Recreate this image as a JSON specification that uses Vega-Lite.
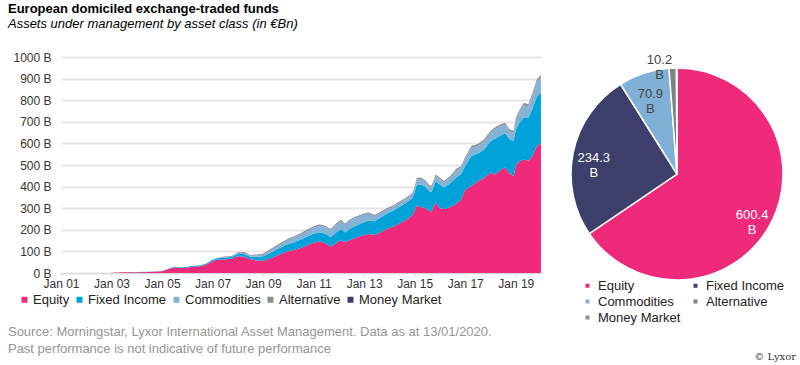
{
"$schema": "https://vega.github.io/schema/vega-lite/v6.json",
"background": "white",
"padding": {"left": 7, "top": 3, "right": 5, "bottom": 3},
"bounds": "flush",
"spacing": 29,
"title": {"text": "European domiciled exchange-traded funds", "subtitle": "Assets under management by asset class (in €Bn)", "anchor": "start", "frame": "bounds", "font": "Liberation Sans", "fontSize": 13, "fontWeight": "bold", "color": "#000", "subtitleFont": "Liberation Sans", "subtitleFontSize": 13, "subtitleFontStyle": "italic", "subtitleColor": "#000", "subtitlePadding": 2, "offset": 20},
"config": {"view": {"stroke": null}, "font": "Liberation Sans"},
"resolve": {"scale": {"color": "independent"}, "legend": {"color": "independent"}},
"hconcat": [
{
"width": 480, "height": 216,
"title": {"text": ["Source: Morningstar, Lyxor International Asset Management. Data as at 13/01/2020.", "Past performance is not indicative of future performance"], "orient": "bottom", "anchor": "start", "frame": "bounds", "font": "Liberation Sans", "fontSize": 13, "fontWeight": "normal", "color": "#959595", "lineHeight": 17, "offset": 19, "dx": -5},
"data": {"values": [
{"d":"2003-01-01","s":"Equity","v":1},{"d":"2003-01-01","s":"Fixed Income","v":0},{"d":"2003-01-01","s":"Commodities","v":0},{"d":"2003-01-01","s":"Alternative","v":0},{"d":"2003-01-01","s":"Money Market","v":0},
{"d":"2003-07-01","s":"Equity","v":3},{"d":"2003-07-01","s":"Fixed Income","v":0},{"d":"2003-07-01","s":"Commodities","v":0},{"d":"2003-07-01","s":"Alternative","v":0},{"d":"2003-07-01","s":"Money Market","v":0},
{"d":"2004-01-01","s":"Equity","v":4},{"d":"2004-01-01","s":"Fixed Income","v":0.5},{"d":"2004-01-01","s":"Commodities","v":0},{"d":"2004-01-01","s":"Alternative","v":0},{"d":"2004-01-01","s":"Money Market","v":0},
{"d":"2004-07-01","s":"Equity","v":5},{"d":"2004-07-01","s":"Fixed Income","v":1},{"d":"2004-07-01","s":"Commodities","v":0},{"d":"2004-07-01","s":"Alternative","v":0},{"d":"2004-07-01","s":"Money Market","v":0},
{"d":"2005-01-01","s":"Equity","v":8},{"d":"2005-01-01","s":"Fixed Income","v":1},{"d":"2005-01-01","s":"Commodities","v":0},{"d":"2005-01-01","s":"Alternative","v":0},{"d":"2005-01-01","s":"Money Market","v":0},
{"d":"2005-04-01","s":"Equity","v":18},{"d":"2005-04-01","s":"Fixed Income","v":2},{"d":"2005-04-01","s":"Commodities","v":0},{"d":"2005-04-01","s":"Alternative","v":0},{"d":"2005-04-01","s":"Money Market","v":0},
{"d":"2005-07-01","s":"Equity","v":26},{"d":"2005-07-01","s":"Fixed Income","v":3},{"d":"2005-07-01","s":"Commodities","v":0},{"d":"2005-07-01","s":"Alternative","v":0},{"d":"2005-07-01","s":"Money Market","v":0},
{"d":"2005-10-01","s":"Equity","v":23},{"d":"2005-10-01","s":"Fixed Income","v":3},{"d":"2005-10-01","s":"Commodities","v":0},{"d":"2005-10-01","s":"Alternative","v":0},{"d":"2005-10-01","s":"Money Market","v":0},
{"d":"2006-01-01","s":"Equity","v":26},{"d":"2006-01-01","s":"Fixed Income","v":3},{"d":"2006-01-01","s":"Commodities","v":0},{"d":"2006-01-01","s":"Alternative","v":0},{"d":"2006-01-01","s":"Money Market","v":0},
{"d":"2006-04-01","s":"Equity","v":29},{"d":"2006-04-01","s":"Fixed Income","v":4},{"d":"2006-04-01","s":"Commodities","v":0},{"d":"2006-04-01","s":"Alternative","v":0},{"d":"2006-04-01","s":"Money Market","v":0},
{"d":"2006-07-01","s":"Equity","v":31},{"d":"2006-07-01","s":"Fixed Income","v":4},{"d":"2006-07-01","s":"Commodities","v":0.5},{"d":"2006-07-01","s":"Alternative","v":0},{"d":"2006-07-01","s":"Money Market","v":0},
{"d":"2006-10-01","s":"Equity","v":38},{"d":"2006-10-01","s":"Fixed Income","v":5},{"d":"2006-10-01","s":"Commodities","v":1},{"d":"2006-10-01","s":"Alternative","v":0},{"d":"2006-10-01","s":"Money Market","v":0},
{"d":"2007-01-01","s":"Equity","v":55},{"d":"2007-01-01","s":"Fixed Income","v":6},{"d":"2007-01-01","s":"Commodities","v":1.5},{"d":"2007-01-01","s":"Alternative","v":0.5},{"d":"2007-01-01","s":"Money Market","v":0},
{"d":"2007-04-01","s":"Equity","v":62},{"d":"2007-04-01","s":"Fixed Income","v":7},{"d":"2007-04-01","s":"Commodities","v":2},{"d":"2007-04-01","s":"Alternative","v":0.5},{"d":"2007-04-01","s":"Money Market","v":0},
{"d":"2007-07-01","s":"Equity","v":64},{"d":"2007-07-01","s":"Fixed Income","v":8},{"d":"2007-07-01","s":"Commodities","v":2.5},{"d":"2007-07-01","s":"Alternative","v":1},{"d":"2007-07-01","s":"Money Market","v":0.5},
{"d":"2007-10-01","s":"Equity","v":66},{"d":"2007-10-01","s":"Fixed Income","v":8},{"d":"2007-10-01","s":"Commodities","v":3},{"d":"2007-10-01","s":"Alternative","v":1},{"d":"2007-10-01","s":"Money Market","v":0.5},
{"d":"2008-01-01","s":"Equity","v":78},{"d":"2008-01-01","s":"Fixed Income","v":10},{"d":"2008-01-01","s":"Commodities","v":5},{"d":"2008-01-01","s":"Alternative","v":1},{"d":"2008-01-01","s":"Money Market","v":1},
{"d":"2008-04-01","s":"Equity","v":76},{"d":"2008-04-01","s":"Fixed Income","v":12},{"d":"2008-04-01","s":"Commodities","v":7},{"d":"2008-04-01","s":"Alternative","v":1},{"d":"2008-04-01","s":"Money Market","v":1},
{"d":"2008-07-01","s":"Equity","v":64},{"d":"2008-07-01","s":"Fixed Income","v":11},{"d":"2008-07-01","s":"Commodities","v":6},{"d":"2008-07-01","s":"Alternative","v":1},{"d":"2008-07-01","s":"Money Market","v":1},
{"d":"2008-10-01","s":"Equity","v":58},{"d":"2008-10-01","s":"Fixed Income","v":17},{"d":"2008-10-01","s":"Commodities","v":7},{"d":"2008-10-01","s":"Alternative","v":1},{"d":"2008-10-01","s":"Money Market","v":2},
{"d":"2009-01-01","s":"Equity","v":57},{"d":"2009-01-01","s":"Fixed Income","v":20},{"d":"2009-01-01","s":"Commodities","v":9},{"d":"2009-01-01","s":"Alternative","v":1},{"d":"2009-01-01","s":"Money Market","v":2},
{"d":"2009-04-01","s":"Equity","v":66},{"d":"2009-04-01","s":"Fixed Income","v":24},{"d":"2009-04-01","s":"Commodities","v":12},{"d":"2009-04-01","s":"Alternative","v":2},{"d":"2009-04-01","s":"Money Market","v":2},
{"d":"2009-07-01","s":"Equity","v":78},{"d":"2009-07-01","s":"Fixed Income","v":28},{"d":"2009-07-01","s":"Commodities","v":15},{"d":"2009-07-01","s":"Alternative","v":2},{"d":"2009-07-01","s":"Money Market","v":2},
{"d":"2009-10-01","s":"Equity","v":90},{"d":"2009-10-01","s":"Fixed Income","v":31},{"d":"2009-10-01","s":"Commodities","v":17},{"d":"2009-10-01","s":"Alternative","v":2},{"d":"2009-10-01","s":"Money Market","v":2},
{"d":"2010-01-01","s":"Equity","v":101},{"d":"2010-01-01","s":"Fixed Income","v":33},{"d":"2010-01-01","s":"Commodities","v":20},{"d":"2010-01-01","s":"Alternative","v":2},{"d":"2010-01-01","s":"Money Market","v":2},
{"d":"2010-04-01","s":"Equity","v":108},{"d":"2010-04-01","s":"Fixed Income","v":36},{"d":"2010-04-01","s":"Commodities","v":22},{"d":"2010-04-01","s":"Alternative","v":2},{"d":"2010-04-01","s":"Money Market","v":2},
{"d":"2010-07-01","s":"Equity","v":116},{"d":"2010-07-01","s":"Fixed Income","v":39},{"d":"2010-07-01","s":"Commodities","v":25},{"d":"2010-07-01","s":"Alternative","v":2},{"d":"2010-07-01","s":"Money Market","v":2},
{"d":"2010-10-01","s":"Equity","v":128},{"d":"2010-10-01","s":"Fixed Income","v":41},{"d":"2010-10-01","s":"Commodities","v":27},{"d":"2010-10-01","s":"Alternative","v":2},{"d":"2010-10-01","s":"Money Market","v":2},
{"d":"2011-01-01","s":"Equity","v":140},{"d":"2011-01-01","s":"Fixed Income","v":42},{"d":"2011-01-01","s":"Commodities","v":28},{"d":"2011-01-01","s":"Alternative","v":3},{"d":"2011-01-01","s":"Money Market","v":2},
{"d":"2011-04-01","s":"Equity","v":146},{"d":"2011-04-01","s":"Fixed Income","v":43},{"d":"2011-04-01","s":"Commodities","v":30},{"d":"2011-04-01","s":"Alternative","v":3},{"d":"2011-04-01","s":"Money Market","v":2},
{"d":"2011-07-01","s":"Equity","v":136},{"d":"2011-07-01","s":"Fixed Income","v":44},{"d":"2011-07-01","s":"Commodities","v":32},{"d":"2011-07-01","s":"Alternative","v":3},{"d":"2011-07-01","s":"Money Market","v":2},
{"d":"2011-09-01","s":"Equity","v":122},{"d":"2011-09-01","s":"Fixed Income","v":44},{"d":"2011-09-01","s":"Commodities","v":33},{"d":"2011-09-01","s":"Alternative","v":3},{"d":"2011-09-01","s":"Money Market","v":2},
{"d":"2011-12-01","s":"Equity","v":140},{"d":"2011-12-01","s":"Fixed Income","v":50},{"d":"2011-12-01","s":"Commodities","v":35},{"d":"2011-12-01","s":"Alternative","v":3},{"d":"2011-12-01","s":"Money Market","v":2},
{"d":"2012-02-01","s":"Equity","v":152},{"d":"2012-02-01","s":"Fixed Income","v":52},{"d":"2012-02-01","s":"Commodities","v":37},{"d":"2012-02-01","s":"Alternative","v":3},{"d":"2012-02-01","s":"Money Market","v":2},
{"d":"2012-04-01","s":"Equity","v":142},{"d":"2012-04-01","s":"Fixed Income","v":46},{"d":"2012-04-01","s":"Commodities","v":34},{"d":"2012-04-01","s":"Alternative","v":3},{"d":"2012-04-01","s":"Money Market","v":2},
{"d":"2012-06-01","s":"Equity","v":152},{"d":"2012-06-01","s":"Fixed Income","v":52},{"d":"2012-06-01","s":"Commodities","v":36},{"d":"2012-06-01","s":"Alternative","v":3},{"d":"2012-06-01","s":"Money Market","v":2},
{"d":"2012-09-01","s":"Equity","v":163},{"d":"2012-09-01","s":"Fixed Income","v":56},{"d":"2012-09-01","s":"Commodities","v":36},{"d":"2012-09-01","s":"Alternative","v":3},{"d":"2012-09-01","s":"Money Market","v":2},
{"d":"2012-12-01","s":"Equity","v":172},{"d":"2012-12-01","s":"Fixed Income","v":60},{"d":"2012-12-01","s":"Commodities","v":34},{"d":"2012-12-01","s":"Alternative","v":3},{"d":"2012-12-01","s":"Money Market","v":2},
{"d":"2013-03-01","s":"Equity","v":180},{"d":"2013-03-01","s":"Fixed Income","v":62},{"d":"2013-03-01","s":"Commodities","v":33},{"d":"2013-03-01","s":"Alternative","v":3},{"d":"2013-03-01","s":"Money Market","v":2},
{"d":"2013-06-01","s":"Equity","v":176},{"d":"2013-06-01","s":"Fixed Income","v":64},{"d":"2013-06-01","s":"Commodities","v":24},{"d":"2013-06-01","s":"Alternative","v":3},{"d":"2013-06-01","s":"Money Market","v":2},
{"d":"2013-09-01","s":"Equity","v":190},{"d":"2013-09-01","s":"Fixed Income","v":68},{"d":"2013-09-01","s":"Commodities","v":22},{"d":"2013-09-01","s":"Alternative","v":3},{"d":"2013-09-01","s":"Money Market","v":2},
{"d":"2013-12-01","s":"Equity","v":205},{"d":"2013-12-01","s":"Fixed Income","v":70},{"d":"2013-12-01","s":"Commodities","v":20},{"d":"2013-12-01","s":"Alternative","v":3},{"d":"2013-12-01","s":"Money Market","v":2},
{"d":"2014-03-01","s":"Equity","v":215},{"d":"2014-03-01","s":"Fixed Income","v":74},{"d":"2014-03-01","s":"Commodities","v":20},{"d":"2014-03-01","s":"Alternative","v":3},{"d":"2014-03-01","s":"Money Market","v":1.5},
{"d":"2014-06-01","s":"Equity","v":230},{"d":"2014-06-01","s":"Fixed Income","v":78},{"d":"2014-06-01","s":"Commodities","v":20},{"d":"2014-06-01","s":"Alternative","v":3},{"d":"2014-06-01","s":"Money Market","v":1.5},
{"d":"2014-09-01","s":"Equity","v":245},{"d":"2014-09-01","s":"Fixed Income","v":80},{"d":"2014-09-01","s":"Commodities","v":19},{"d":"2014-09-01","s":"Alternative","v":3},{"d":"2014-09-01","s":"Money Market","v":1.5},
{"d":"2014-12-01","s":"Equity","v":268},{"d":"2014-12-01","s":"Fixed Income","v":80},{"d":"2014-12-01","s":"Commodities","v":19},{"d":"2014-12-01","s":"Alternative","v":3},{"d":"2014-12-01","s":"Money Market","v":1.5},
{"d":"2015-01-01","s":"Equity","v":290},{"d":"2015-01-01","s":"Fixed Income","v":85},{"d":"2015-01-01","s":"Commodities","v":21},{"d":"2015-01-01","s":"Alternative","v":3},{"d":"2015-01-01","s":"Money Market","v":1.5},
{"d":"2015-02-01","s":"Equity","v":312},{"d":"2015-02-01","s":"Fixed Income","v":98},{"d":"2015-02-01","s":"Commodities","v":24},{"d":"2015-02-01","s":"Alternative","v":4},{"d":"2015-02-01","s":"Money Market","v":1.5},
{"d":"2015-04-01","s":"Equity","v":305},{"d":"2015-04-01","s":"Fixed Income","v":105},{"d":"2015-04-01","s":"Commodities","v":25},{"d":"2015-04-01","s":"Alternative","v":4},{"d":"2015-04-01","s":"Money Market","v":1.5},
{"d":"2015-06-01","s":"Equity","v":300},{"d":"2015-06-01","s":"Fixed Income","v":100},{"d":"2015-06-01","s":"Commodities","v":24},{"d":"2015-06-01","s":"Alternative","v":4},{"d":"2015-06-01","s":"Money Market","v":1.5},
{"d":"2015-08-01","s":"Equity","v":287},{"d":"2015-08-01","s":"Fixed Income","v":92},{"d":"2015-08-01","s":"Commodities","v":22},{"d":"2015-08-01","s":"Alternative","v":4},{"d":"2015-08-01","s":"Money Market","v":1.5},
{"d":"2015-09-01","s":"Equity","v":285},{"d":"2015-09-01","s":"Fixed Income","v":90},{"d":"2015-09-01","s":"Commodities","v":22},{"d":"2015-09-01","s":"Alternative","v":4},{"d":"2015-09-01","s":"Money Market","v":1.5},
{"d":"2015-11-01","s":"Equity","v":326},{"d":"2015-11-01","s":"Fixed Income","v":98},{"d":"2015-11-01","s":"Commodities","v":24},{"d":"2015-11-01","s":"Alternative","v":5},{"d":"2015-11-01","s":"Money Market","v":1.5},
{"d":"2016-01-01","s":"Equity","v":300},{"d":"2016-01-01","s":"Fixed Income","v":110},{"d":"2016-01-01","s":"Commodities","v":25},{"d":"2016-01-01","s":"Alternative","v":5},{"d":"2016-01-01","s":"Money Market","v":1.5},
{"d":"2016-03-01","s":"Equity","v":296},{"d":"2016-03-01","s":"Fixed Income","v":100},{"d":"2016-03-01","s":"Commodities","v":24},{"d":"2016-03-01","s":"Alternative","v":5},{"d":"2016-03-01","s":"Money Market","v":1.5},
{"d":"2016-06-01","s":"Equity","v":305},{"d":"2016-06-01","s":"Fixed Income","v":112},{"d":"2016-06-01","s":"Commodities","v":27},{"d":"2016-06-01","s":"Alternative","v":5},{"d":"2016-06-01","s":"Money Market","v":1.5},
{"d":"2016-09-01","s":"Equity","v":322},{"d":"2016-09-01","s":"Fixed Income","v":122},{"d":"2016-09-01","s":"Commodities","v":33},{"d":"2016-09-01","s":"Alternative","v":5},{"d":"2016-09-01","s":"Money Market","v":1.5},
{"d":"2016-11-01","s":"Equity","v":340},{"d":"2016-11-01","s":"Fixed Income","v":117},{"d":"2016-11-01","s":"Commodities","v":31},{"d":"2016-11-01","s":"Alternative","v":5},{"d":"2016-11-01","s":"Money Market","v":1.5},
{"d":"2017-01-01","s":"Equity","v":385},{"d":"2017-01-01","s":"Fixed Income","v":112},{"d":"2017-01-01","s":"Commodities","v":32},{"d":"2017-01-01","s":"Alternative","v":5},{"d":"2017-01-01","s":"Money Market","v":1.5},
{"d":"2017-04-01","s":"Equity","v":403},{"d":"2017-04-01","s":"Fixed Income","v":139},{"d":"2017-04-01","s":"Commodities","v":38},{"d":"2017-04-01","s":"Alternative","v":6},{"d":"2017-04-01","s":"Money Market","v":1.5},
{"d":"2017-07-01","s":"Equity","v":425},{"d":"2017-07-01","s":"Fixed Income","v":128},{"d":"2017-07-01","s":"Commodities","v":36},{"d":"2017-07-01","s":"Alternative","v":6},{"d":"2017-07-01","s":"Money Market","v":1.5},
{"d":"2017-10-01","s":"Equity","v":440},{"d":"2017-10-01","s":"Fixed Income","v":132},{"d":"2017-10-01","s":"Commodities","v":38},{"d":"2017-10-01","s":"Alternative","v":6},{"d":"2017-10-01","s":"Money Market","v":1.5},
{"d":"2018-01-01","s":"Equity","v":465},{"d":"2018-01-01","s":"Fixed Income","v":145},{"d":"2018-01-01","s":"Commodities","v":40},{"d":"2018-01-01","s":"Alternative","v":6},{"d":"2018-01-01","s":"Money Market","v":1.5},
{"d":"2018-03-01","s":"Equity","v":455},{"d":"2018-03-01","s":"Fixed Income","v":165},{"d":"2018-03-01","s":"Commodities","v":44},{"d":"2018-03-01","s":"Alternative","v":7},{"d":"2018-03-01","s":"Money Market","v":1.5},
{"d":"2018-06-01","s":"Equity","v":478},{"d":"2018-06-01","s":"Fixed Income","v":160},{"d":"2018-06-01","s":"Commodities","v":42},{"d":"2018-06-01","s":"Alternative","v":7},{"d":"2018-06-01","s":"Money Market","v":1.5},
{"d":"2018-08-01","s":"Equity","v":488},{"d":"2018-08-01","s":"Fixed Income","v":160},{"d":"2018-08-01","s":"Commodities","v":38},{"d":"2018-08-01","s":"Alternative","v":7},{"d":"2018-08-01","s":"Money Market","v":1.5},
{"d":"2018-10-01","s":"Equity","v":462},{"d":"2018-10-01","s":"Fixed Income","v":158},{"d":"2018-10-01","s":"Commodities","v":37},{"d":"2018-10-01","s":"Alternative","v":7},{"d":"2018-10-01","s":"Money Market","v":1.5},
{"d":"2018-12-01","s":"Equity","v":449},{"d":"2018-12-01","s":"Fixed Income","v":162},{"d":"2018-12-01","s":"Commodities","v":38},{"d":"2018-12-01","s":"Alternative","v":7},{"d":"2018-12-01","s":"Money Market","v":1.5},
{"d":"2019-01-01","s":"Equity","v":495},{"d":"2019-01-01","s":"Fixed Income","v":167},{"d":"2019-01-01","s":"Commodities","v":46},{"d":"2019-01-01","s":"Alternative","v":8},{"d":"2019-01-01","s":"Money Market","v":1.5},
{"d":"2019-03-01","s":"Equity","v":518},{"d":"2019-03-01","s":"Fixed Income","v":180},{"d":"2019-03-01","s":"Commodities","v":50},{"d":"2019-03-01","s":"Alternative","v":8},{"d":"2019-03-01","s":"Money Market","v":1.5},
{"d":"2019-05-01","s":"Equity","v":526},{"d":"2019-05-01","s":"Fixed Income","v":195},{"d":"2019-05-01","s":"Commodities","v":57},{"d":"2019-05-01","s":"Alternative","v":9},{"d":"2019-05-01","s":"Money Market","v":1.5},
{"d":"2019-07-01","s":"Equity","v":520},{"d":"2019-07-01","s":"Fixed Income","v":200},{"d":"2019-07-01","s":"Commodities","v":50},{"d":"2019-07-01","s":"Alternative","v":9},{"d":"2019-07-01","s":"Money Market","v":1},
{"d":"2019-09-01","s":"Equity","v":542},{"d":"2019-09-01","s":"Fixed Income","v":218},{"d":"2019-09-01","s":"Commodities","v":64},{"d":"2019-09-01","s":"Alternative","v":9},{"d":"2019-09-01","s":"Money Market","v":1},
{"d":"2019-11-01","s":"Equity","v":588},{"d":"2019-11-01","s":"Fixed Income","v":228},{"d":"2019-11-01","s":"Commodities","v":68},{"d":"2019-11-01","s":"Alternative","v":10},{"d":"2019-11-01","s":"Money Market","v":1},
{"d":"2019-12-31","s":"Equity","v":600.4},{"d":"2019-12-31","s":"Fixed Income","v":234.3},{"d":"2019-12-31","s":"Commodities","v":70.9},{"d":"2019-12-31","s":"Alternative","v":10.2},{"d":"2019-12-31","s":"Money Market","v":0.8}
]},
"transform": [{"calculate": "indexof(['Equity','Fixed Income','Commodities','Alternative','Money Market'], datum.s)", "as": "k"}],
"mark": {"type": "area", "interpolate": "linear"},
"encoding": {
"x": {"field": "d", "type": "temporal", "scale": {"type": "utc", "domain": [{"year": 2001, "month": 1, "date": 1, "utc": true}, {"year": 2020, "month": 1, "date": 1, "utc": true}]},
"axis": {"values": [{"year": 2001, "utc": true}, {"year": 2003, "utc": true}, {"year": 2005, "utc": true}, {"year": 2007, "utc": true}, {"year": 2009, "utc": true}, {"year": 2011, "utc": true}, {"year": 2013, "utc": true}, {"year": 2015, "utc": true}, {"year": 2017, "utc": true}, {"year": 2019, "utc": true}], "format": "%b %y", "title": null, "grid": false, "domainColor": "#d9d9d9", "tickColor": "#d9d9d9", "tickSize": 3, "labelFontSize": 12, "labelColor": "#333", "labelPadding": 2, "labelFlush": false}},
"y": {"field": "v", "type": "quantitative", "stack": "zero", "scale": {"domain": [0, 1000]},
"axis": {"values": [0, 100, 200, 300, 400, 500, 600, 700, 800, 900, 1000], "labelExpr": "datum.value + ' B'", "title": null, "domain": false, "ticks": false, "grid": true, "gridColor": "#e6e6e6", "gridWidth": 2, "labelPadding": 10, "labelFontSize": 12, "labelColor": "#333"}},
"order": {"field": "k", "type": "quantitative", "sort": "ascending"},
"color": {"field": "s", "type": "nominal", "sort": ["Equity", "Fixed Income", "Commodities", "Alternative", "Money Market"],
"scale": {"domain": ["Equity", "Fixed Income", "Commodities", "Alternative", "Money Market"], "range": ["#ef2a7a", "#00a3d9", "#84b3d6", "#8c8c8c", "#3c3d6e"]},
"legend": {"orient": "none", "legendX": -43, "legendY": 236, "direction": "horizontal", "title": null, "symbolType": "square", "symbolSize": 36, "labelFontSize": 13, "labelColor": "#222", "columnPadding": 3, "labelOffset": 2}}
}
},
{
"width": 214, "height": 234,
"title": {"text": "© Lyxor", "orient": "bottom", "anchor": "end", "frame": "bounds", "font": "DejaVu Serif", "fontSize": 10, "fontWeight": "normal", "color": "#333", "offset": 27, "dx": 10},
"data": {"values": [
{"s": "Equity", "v": 600.4},
{"s": "Fixed Income", "v": 234.3},
{"s": "Commodities", "v": 70.9},
{"s": "Alternative", "v": 10.2},
{"s": "Money Market", "v": 0.8}
]},
"encoding": {
"theta": {"field": "v", "type": "quantitative", "stack": true},
"order": {"field": "v", "type": "quantitative", "sort": "descending"}
},
"layer": [
{"mark": {"type": "arc", "outerRadius": 106, "stroke": "white", "strokeWidth": 1.5},
"encoding": {"color": {"field": "s", "type": "nominal", "sort": ["Equity", "Fixed Income", "Commodities", "Alternative", "Money Market"],
"scale": {"domain": ["Equity", "Fixed Income", "Commodities", "Alternative", "Money Market"], "range": ["#ef2a7a", "#3d3f6b", "#80b0d6", "#808080", "#8c8c8c"]},
"legend": {"orient": "none", "legendX": 11, "legendY": 222, "columns": 2, "direction": "horizontal", "title": null, "symbolType": "square", "symbolSize": 30, "labelFontSize": 13, "labelColor": "#222", "rowPadding": 2, "columnPadding": 8, "labelOffset": 4}}}},
{"mark": {"type": "text", "radius": 85, "dy": 1, "fontSize": 13},
"encoding": {"text": {"condition": {"test": "datum.v < 50", "value": ""}, "field": "v", "type": "quantitative", "format": ".1f"},
"color": {"condition": {"test": "datum.v > 100", "value": "white"}, "value": "#444"}}},
{"mark": {"type": "text", "radius": 85, "dy": 16, "fontSize": 13},
"encoding": {"text": {"condition": {"test": "datum.v < 50", "value": ""}, "value": "B"},
"color": {"condition": {"test": "datum.v > 100", "value": "white"}, "value": "#444"}}},
{"mark": {"type": "text", "radius": 112, "dy": -2, "dx": -13, "fontSize": 13, "color": "#444"},
"encoding": {"text": {"condition": {"test": "datum.v < 5 || datum.v > 50", "value": ""}, "field": "v", "type": "quantitative", "format": ".1f"}}},
{"mark": {"type": "text", "radius": 112, "dy": 13, "dx": -13, "fontSize": 13, "color": "#444"},
"encoding": {"text": {"condition": {"test": "datum.v < 5 || datum.v > 50", "value": ""}, "value": "B"}}}
]
}
]
}
